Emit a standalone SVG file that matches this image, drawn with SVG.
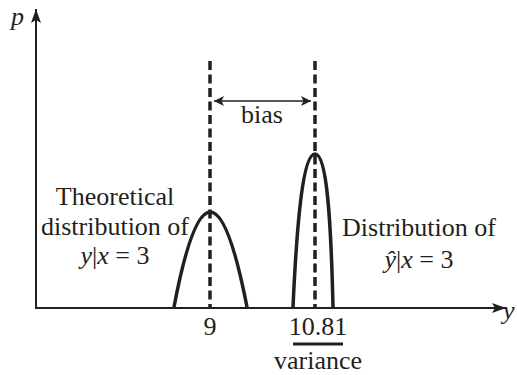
<svg xmlns="http://www.w3.org/2000/svg" width="517" height="375" viewBox="0 0 517 375">
<defs>
<style>
text{font-family:"Liberation Serif","Times New Roman",serif;font-size:26px;fill:#231f20}
.it{font-style:italic}
.axis{stroke:#231f20;stroke-width:2;fill:none}
.dash{stroke:#231f20;stroke-width:3.5;stroke-dasharray:9,4.5;fill:none}
.curve{stroke:#231f20;stroke-width:3.5;fill:none}
</style>
<marker id="ah" viewBox="0 0 10 10" refX="10" refY="5" markerWidth="10" markerHeight="10" markerUnits="userSpaceOnUse" orient="auto-start-reverse">
<path d="M0,0 L10,5 L0,10 L2.5,5 z" fill="#231f20"/>
</marker>
<marker id="ax" viewBox="0 0 14 10" refX="14" refY="5" markerWidth="14" markerHeight="10" markerUnits="userSpaceOnUse" orient="auto">
<path d="M0,0 L14,5 L0,10 L3,5 z" fill="#231f20"/>
</marker>
</defs>
<rect width="517" height="375" fill="#fff"/>
<g id="axes">
<line class="axis" x1="36" y1="309" x2="36" y2="9" marker-end="url(#ax)"/>
<line class="axis" x1="35" y1="308" x2="506" y2="308" marker-end="url(#ax)"/>
<text class="it" x="11" y="25">p</text>
<text class="it" x="503" y="319">y</text>
</g>
<g id="connectors">
<line class="dash" x1="210" y1="61" x2="210" y2="307"/>
<line class="dash" x1="315" y1="61" x2="315" y2="307"/>
<line stroke="#231f20" stroke-width="1.5" x1="214" y1="101" x2="311" y2="101" marker-start="url(#ah)" marker-end="url(#ah)"/>
</g>
<g id="bias"><text x="262" y="123" text-anchor="middle">bias</text></g>
<g id="theoretical">
<path class="curve" d="M174,307 Q210,117 247,307"/>
<text x="115" y="205" text-anchor="middle">Theoretical</text>
<text x="115" y="235" text-anchor="middle">distribution of</text>
<text x="115" y="264" text-anchor="middle"><tspan class="it">y</tspan>|<tspan class="it">x</tspan> = 3</text>
</g>
<g id="estimated">
<path class="curve" d="M293,307 C297,220 303,154 315,154 C327,154 331,220 333,307"/>
<text x="419" y="236" text-anchor="middle">Distribution of</text>
<text x="419" y="268" text-anchor="middle"><tspan class="it">ŷ</tspan>|<tspan class="it">x</tspan> = 3</text>
</g>
<g id="ticks">
<text x="210" y="335" text-anchor="middle">9</text>
<text x="318" y="335" text-anchor="middle">10.81</text>
<line stroke="#231f20" stroke-width="3" x1="293" y1="344" x2="343" y2="344"/>
<text x="318" y="369" text-anchor="middle">variance</text>
</g>
</svg>
